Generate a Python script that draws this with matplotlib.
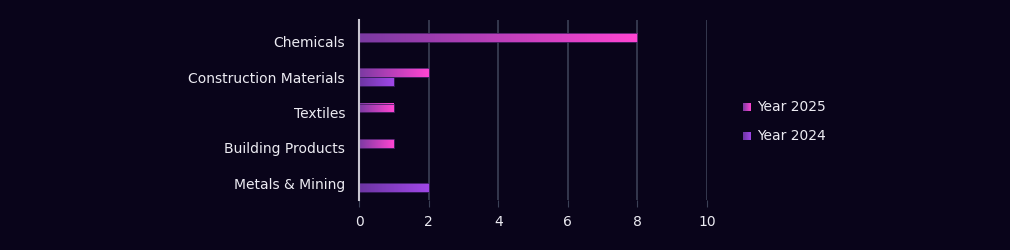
import numpy as np
import matplotlib
matplotlib.use("Agg")
import matplotlib.pyplot as plt
from matplotlib.colors import LinearSegmentedColormap
from matplotlib.patches import Rectangle

categories = ["Chemicals", "Construction Materials", "Textiles", "Building Products", "Metals & Mining"]
year_2025 = [8, 2, 1, 1, 0]
year_2024 = [0, 1, 0, 0, 2]
series_names = ["Year 2025", "Year 2024"]

BG = "#09041a"
GRID = "#3c4157"
TEXT = "#ecebf2"

cmap_2025 = LinearSegmentedColormap.from_list("c25", ["#7a3aa2", "#ff45d2"])
cmap_2024 = LinearSegmentedColormap.from_list("c24", ["#6c35a2", "#a047e8"])
grad = np.linspace(0, 1, 256).reshape(1, -1)

plt.rcParams['font.family'] = ['DejaVu Sans']

fig = plt.figure(figsize=(10.1, 2.5), dpi=100, facecolor=BG)
ax = fig.add_axes([359 / 1010, 1 - 200 / 250, (707 - 359) / 1010, 180 / 250])
ax.set_facecolor(BG)

bar_h = 0.25
y = np.arange(len(categories))


def gradient_bar(ax, x0, width, yc, h, cmap, edge):
    if width <= 0:
        return
    ax.imshow(grad, cmap=cmap, aspect="auto", extent=(x0, x0 + width, yc + h / 2, yc - h / 2),
              zorder=3, interpolation="bilinear")
    ax.add_patch(Rectangle((x0, yc - h / 2), width, h, fill=False, edgecolor=edge, lw=0.6, zorder=4))


for i in range(len(categories)):
    gradient_bar(ax, 0, year_2025[i], y[i] - bar_h / 2, bar_h, cmap_2025, "#4a2268")
    gradient_bar(ax, 0, year_2024[i], y[i] + bar_h / 2, bar_h, cmap_2024, "#3a1f60")

ax.set_xlim(0, 10)
ax.set_ylim(4.48, -0.62)
ax.set_yticks(y)
ax.set_yticklabels(categories)
ax.set_xticks([0, 2, 4, 6, 8, 10])
ax.grid(axis="x", color=GRID, lw=1.2, zorder=0)
ax.set_axisbelow(True)
for s in ["top", "right", "bottom"]:
    ax.spines[s].set_visible(False)
ax.spines["left"].set_color("#c8c6d0")
ax.spines["left"].set_linewidth(1.5)
ax.spines["left"].set_zorder(5)
ax.tick_params(axis="y", length=0, pad=10, labelsize=10, colors=TEXT)
ax.tick_params(axis="x", length=5, color=GRID, labelsize=10, colors=TEXT, pad=6)

# legend
leg_items = [(series_names[0], cmap_2025, 107), (series_names[1], cmap_2024, 136)]
for name, cmap, ypx in leg_items:
    lax = fig.add_axes([743 / 1010, 1 - (ypx + 4) / 250, 8 / 1010, 8 / 250])
    lax.imshow(grad, cmap=cmap, aspect="auto")
    lax.axis("off")
    fig.text(757 / 1010, 1 - ypx / 250, name, color=TEXT, fontsize=10, va="center", ha="left")

fig.savefig("out.png", dpi=100, facecolor=BG)
